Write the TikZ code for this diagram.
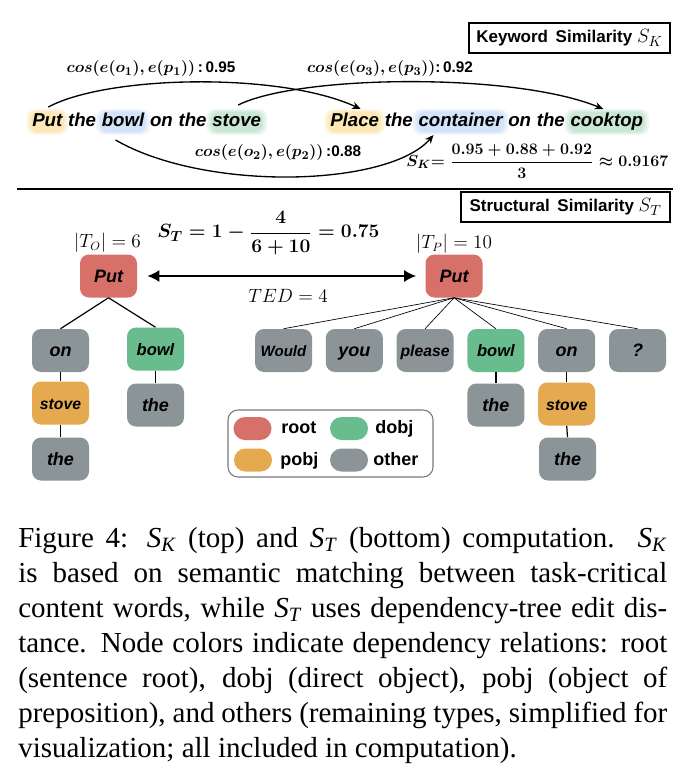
\documentclass[tikz,border=0pt]{standalone}
\usepackage{fontspec}
\usepackage{amsmath}
\usetikzlibrary{arrows.meta,calc,backgrounds}
\newfontfamily\dgsans{Liberation Sans}
\newfontfamily\capserif{Liberation Serif}
\definecolor{rootc}{RGB}{216,112,106}
\definecolor{dobjc}{RGB}{104,188,142}
\definecolor{pobjc}{RGB}{229,169,79}
\definecolor{otherc}{RGB}{139,148,151}
\definecolor{legbord}{RGB}{120,120,120}
\definecolor{glowY}{RGB}{252,205,90}
\definecolor{glowB}{RGB}{160,195,250}
\definecolor{glowG}{RGB}{140,205,160}
\newcommand\nodefnt{\dgsans\bfseries\itshape\fontsize{13.5pt}{16pt}\selectfont}
\newcommand\sentfnt{\dgsans\bfseries\itshape\fontsize{14pt}{17pt}\selectfont}
\newcommand\lblfnt{\dgsans\bfseries\fontsize{11.5pt}{14pt}\selectfont}
\newcommand\capsym[2]{\textit{#1}\textsubscript{\textit{#2}}}
\newsavebox\skbox
\newsavebox\stbox
\newcommand\glowbox[2]{%
  \foreach \g in {5,4,3,2,1,0,0}{%
    \fill[#2, opacity=0.08, rounded corners=6pt]
      ($(#1.base west)+(-1-\g,5+0.6*\g)$) rectangle ($(#1.base east)+(1+\g,-15-0.6*\g)$);
  }}
\tikzset{
  x=0.75pt, y=-0.75pt,
  tn/.style={rounded corners=6.75pt, minimum width=42.75pt, minimum height=32.25pt, inner sep=0pt, text height=9.7pt, text depth=0pt, font=\nodefnt},
  rootn/.style={tn, fill=rootc},
  dobjn/.style={tn, fill=dobjc},
  pobjn/.style={tn, fill=pobjc},
  othern/.style={tn, fill=otherc},
  word/.style={inner sep=0pt, anchor=base west, font=\sentfnt},
  titlebox/.style={draw, line width=1.4pt, inner sep=0pt, minimum height=22.5pt, font=\dgsans\bfseries\fontsize{12.75pt}{15pt}\selectfont},
  mlabel/.style={inner sep=0pt, font=\fontsize{12.5pt}{15pt}\selectfont},
  edgeL/.style={line width=0.9pt},
  edgeR/.style={line width=0.5pt},
  simarrow/.style={line width=1pt, -{Stealth[length=6.5pt,width=5.5pt]}},
  swatch/.style={rounded corners=8.6pt, minimum width=28.5pt, minimum height=17.25pt, inner sep=0pt},
  legtext/.style={anchor=base west, inner sep=0pt, font=\dgsans\bfseries\fontsize{13.5pt}{16pt}\selectfont},
  mathlbl/.style={inner sep=0pt, font=\fontsize{13.5pt}{16pt}\selectfont},
  fnode/.style={anchor=west, inner sep=0pt},
}
\begin{document}
\sbox\skbox{\fontsize{13pt}{16pt}\selectfont\boldmath$S_K{=}\mskip\thickmuskip\dfrac{0.95+0.88+0.92}{3}\approx 0.9167$}%
\sbox\stbox{\fontsize{15.3pt}{18pt}\selectfont\boldmath$S_T = 1 - \dfrac{4}{6+10} = 0.75$}%
\begin{tikzpicture}
\useasboundingbox (0,0) rectangle (693,784);

% ---------- Keyword similarity ----------
\node[titlebox, minimum width=150.75pt] (kwbox) at (569.5,38) {Keyword\hspace{0.45em}Similarity {\mdseries\fontsize{15pt}{18pt}\selectfont$S_K$}};

\node[mlabel] (cosa) at (151,69) {{\boldmath$cos(e(o_1),e(p_1))$}\,{\lblfnt:\,0.95}};
\node[mlabel] (cosc) at (390,69) {{\boldmath$cos(e(o_3),e(p_3))$}{\lblfnt:\,0.92}};
\node[mlabel] (cosb) at (278,153) {{\boldmath$cos(e(o_2),e(p_2))$}\,{\lblfnt:0.88}};

% sentence 1
\node[word] (w1) at (32,127) {Put};
\node[word] (w2) at ($(w1.base east)+(5.2,0)$) {the};
\node[word] (w3) at ($(w2.base east)+(5.2,0)$) {bowl};
\node[word] (w4) at ($(w3.base east)+(5.2,0)$) {on};
\node[word] (w5) at ($(w4.base east)+(5.2,0)$) {the};
\node[word] (w6) at ($(w5.base east)+(5.2,0)$) {stove};
% sentence 2
\node[word] (p1) at (330,127) {Place};
\node[word] (p2) at ($(p1.base east)+(5.2,0)$) {the};
\node[word] (p3) at ($(p2.base east)+(5.2,0)$) {container};
\node[word] (p4) at ($(p3.base east)+(5.2,0)$) {on};
\node[word] (p5) at ($(p4.base east)+(5.2,0)$) {the};
\node[word] (p6) at ($(p5.base east)+(5.2,0)$) {cooktop};

\begin{scope}[on background layer]
  \fill[white] (0,0) rectangle (693,784);
  \glowbox{w1}{glowY}
  \glowbox{w3}{glowB}
  \glowbox{w6}{glowG}
  \glowbox{p1}{glowY}
  \glowbox{p3}{glowB}
  \glowbox{p6}{glowG}
\end{scope}

\draw[simarrow] ($(w1.base)+(1,-20)$) .. controls +(60,-32) and +(-80,-37) .. ($(p1.base)+(6,-18)$);
\draw[simarrow] ($(w6.base)+(1.5,-22)$) .. controls +(60,-30) and +(-90,-37) .. ($(p6.base)+(-3.5,-18)$);
\draw[simarrow] ($(w3.base)+(-7.5,13)$) .. controls +(90,52) and +(-45,52) .. ($(p3.base)+(-27,8)$);

\node[fnode] (skf) at (406,161) {\usebox\skbox};

% separator
\coordinate (sepL) at (17,189);
\coordinate (sepR) at (673,189);
\draw[line width=1.5pt] (sepL) -- (sepR);

% ---------- Structural similarity ----------
\node[titlebox, minimum width=156.75pt] (stbx) at (565.5,207) {Structural\hspace{0.45em}Similarity {\mdseries\fontsize{15pt}{18pt}\selectfont$S_T$}};

\node[fnode] (stf) at (157,233) {\usebox\stbox};

\node[mathlbl] (tol) at (107.5,243) {$\lvert T_O\rvert = 6$};
\node[mathlbl] (tpl) at (454,244) {$\lvert T_P\rvert = 10$};

\node[rootn] (putL) at (108.5,276) {Put};
\node[rootn] (putR) at (454,276) {Put};

\draw[{Latex[length=9pt,width=9pt]}-{Latex[length=9pt,width=9pt]}, line width=1.5pt, shorten <=7.5pt, shorten >=6.75pt] (putL.east) -- (putR.west);
\node[mathlbl] (ted) at (288,296) {$TED = 4$};

% left tree
\node[othern] (onL) at (60.5,350.5) {on};
\node[dobjn, font=\dgsans\bfseries\itshape\fontsize{12.4pt}{15pt}\selectfont] (bowlL) at (155.5,349) {bowl};
\node[pobjn, font=\dgsans\bfseries\itshape\fontsize{11.8pt}{14pt}\selectfont] (stoveL) at (60.5,403) {stove};
\node[othern] (theLb) at (155.5,405) {the};
\node[othern] (theLs) at (60.5,459) {the};
\draw[edgeL] (putL.south) -- (onL.north);
\draw[edgeL] (putL.south) -- (bowlL.north);
\draw[edgeL] (onL.south) -- (stoveL.north);
\draw[edgeL] (stoveL.south) -- (theLs.north);
\draw[edgeL] (bowlL.south) -- (theLb.north);

% right tree
\node[othern, font=\dgsans\bfseries\itshape\fontsize{11.3pt}{14pt}\selectfont] (wouldR) at (283.5,350.5) {Would};
\node[othern] (youR) at (354.3,350.5) {you};
\node[othern, font=\dgsans\bfseries\itshape\fontsize{11.8pt}{14pt}\selectfont] (pleaseR) at (425.1,350.5) {please};
\node[dobjn, font=\dgsans\bfseries\itshape\fontsize{12.4pt}{15pt}\selectfont] (bowlR) at (495.9,350.5) {bowl};
\node[othern] (onR) at (566.7,350.5) {on};
\node[othern] (qR) at (637.5,350.5) {?};
\node[othern] (theRb) at (495.9,405) {the};
\node[pobjn, font=\dgsans\bfseries\itshape\fontsize{11.8pt}{14pt}\selectfont] (stoveR) at (566.7,404) {stove};
\node[othern] (theRs) at (567.5,459) {the};
\foreach \c in {wouldR,youR,pleaseR,bowlR,onR,qR}{
  \draw[edgeR] (putR.south) -- (\c.north);
}
\draw[edgeL] (bowlR.south) -- (theRb.north);
\draw[edgeL] (onR.south) -- (stoveR.north);
\draw[edgeL] (stoveR.south) -- (theRs.north);

% legend
\node[draw=legbord, line width=0.8pt, rounded corners=7.5pt, minimum width=153.75pt, minimum height=50.25pt, inner sep=0pt] (leg) at (330.5,443.5) {};
\node[swatch, fill=rootc] (swr) at (252.5,428.5) {};
\node[swatch, fill=dobjc] (swd) at (349,428.5) {};
\node[swatch, fill=pobjc] (swp) at (253,460) {};
\node[swatch, fill=otherc] (swo) at (349,460) {};
\node[legtext] (ltr) at (281,433) {root};
\node[legtext] (ltd) at (375,433) {dobj};
\node[legtext] (ltp) at (280,465) {pobj};
\node[legtext] (lto) at (373,465) {other};

% caption
\node[anchor=base west, inner sep=0pt] (cap) at (18,547) {\parbox[t]{486.75pt}{%
  \capserif\fontsize{21.75pt}{26.25pt}\selectfont
  \tolerance=9999 \hyphenpenalty=10000 \exhyphenpenalty=10000
  Figure 4: \capsym{S}{K} (top) and \capsym{S}{T} (bottom) computation. \capsym{S}{K}\linebreak
  is based on semantic matching between task-critical\linebreak
  content words, while \capsym{S}{T} uses dependency-tree edit dis-\linebreak
  tance. Node colors indicate dependency relations: root\linebreak
  (sentence root), dobj (direct object), pobj (object of\linebreak
  preposition), and others (remaining types, simplified for\linebreak
  visualization; all included in computation).}};
\end{tikzpicture}
\end{document}
